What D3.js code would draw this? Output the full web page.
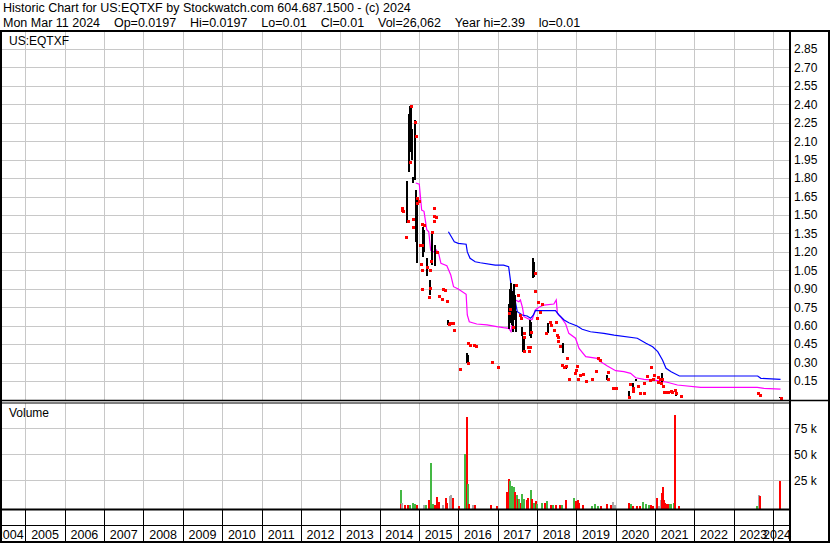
<!DOCTYPE html>
<html>
<head>
<meta charset="utf-8">
<script src="https://cdn.jsdelivr.net/npm/d3@7"></script>
<style>
body{margin:0;background:#fff;}
svg{display:block;font-family:"Liberation Sans",Arial,sans-serif;font-size:12px;}
.grid line{stroke:#c8c8c8;stroke-width:1;shape-rendering:crispEdges;}
.grid .domain{display:none;}
</style>
</head>
<body>
<svg id="chart" width="830" height="543"></svg>
<script>
// ---- data ----
var titleLine1 = 'Historic Chart for US:EQTXF by Stockwatch.com 604.687.1500 - (c) 2024';
var titleFields = ['Mon Mar 11 2024','Op=0.0197','Hi=0.0197','Lo=0.01','Cl=0.01','Vol=26,062','Year hi=2.39','lo=0.01'];
var symbol = 'US:EQTXF';

var years = ['2004','2005','2006','2007','2008','2009','2010','2011','2012','2013','2014',
             '2015','2016','2017','2018','2019','2020','2021','2022','2023','2024'];
var priceTicks = [0.15,0.30,0.45,0.60,0.75,0.90,1.05,1.20,1.35,1.50,1.65,1.80,1.95,2.10,2.25,2.40,2.55,2.70,2.85];
var volTicks = [25000,50000,75000];

// high-low bars (decimal year)
var barYear = [2014.71,2014.75,2014.77,2014.79,2014.82,2014.86,2014.90,2014.92,2014.94,2014.96,
               2015.11,2015.14,2015.20,2015.27,2015.33,2015.40,2015.75,2016.22,2016.25,
               2017.29,2017.32,2017.34,2017.37,2017.39,2017.42,2017.45,2017.47,2017.62,2017.65,2017.67,
               2017.82,2017.86,2017.90,2017.92,2018.29,2018.65,2018.75,2019.78,2020.34,2020.43,2020.52,
               2021.17,2021.54,2024.18];
var barHigh = [1.78,2.32,2.39,2.37,2.20,1.81,2.27,1.70,1.62,1.55,
               1.40,1.38,1.15,0.97,1.36,1.26,0.65,0.376,0.36,
               0.78,0.90,0.95,0.88,0.80,0.94,0.85,0.72,0.59,0.52,0.50,
               0.65,0.63,1.15,1.12,0.62,0.457,0.267,0.20,0.069,0.134,0.167,
               0.215,0.053,0.02];
var barLow  = [1.44,1.85,2.02,2.05,1.95,1.76,1.78,1.28,1.30,1.11,
               1.16,1.20,1.00,0.85,1.09,1.09,0.61,0.294,0.30,
               0.58,0.62,0.65,0.60,0.55,0.70,0.65,0.55,0.52,0.39,0.40,
               0.52,0.50,0.985,1.00,0.54,0.376,0.248,0.16,0.023,0.093,0.15,
               0.134,0.031,0.01];

// single-price days (red)
var dotYear = [2014.56,2014.58,2014.60,2014.67,2014.73,2014.77,2014.80,2014.84,2014.84,2014.90,2014.92,2014.94,2014.96,
               2015.01,2015.03,2015.06,2015.07,2015.08,2015.08,2015.08,2015.14,2015.20,2015.26,2015.27,2015.27,2015.31,
               2015.34,2015.38,2015.38,2015.38,2015.43,2015.47,2015.52,2015.59,2015.60,2015.67,2015.71,2015.77,2015.79,
               2015.86,2015.89,2016.04,2016.24,2016.26,2016.30,2016.40,2016.45,2016.85,2017.00,
               2017.30,2017.32,2017.40,2017.47,2017.51,2017.57,2017.59,2017.67,2017.67,2017.67,2017.77,2017.80,2017.82,
               2017.86,2017.95,2017.95,2018.01,2018.03,2018.09,2018.14,2018.22,2018.33,2018.35,2018.44,2018.48,2018.50,
               2018.54,2018.54,2018.58,2018.63,2018.69,2018.74,2018.77,2018.81,2018.97,2018.99,2019.03,2019.05,2019.09,
               2019.17,2019.25,2019.41,2019.50,2019.55,2019.59,2019.80,2019.81,2019.94,2020.02,2020.34,2020.36,2020.43,
               2020.45,2020.56,2020.63,2020.72,2020.72,2020.80,2020.87,2020.91,2020.96,2020.97,2021.07,2021.08,2021.13,
               2021.15,2021.18,2021.21,2021.23,2021.28,2021.34,2021.40,2021.43,2021.51,2021.54,2021.66,
               2023.63,2023.68,2024.20];
var dotPrice = [1.54,1.56,1.53,1.32,1.45,1.93,2.39,1.47,1.40,2.26,2.14,1.64,1.60,
                1.61,1.26,1.10,0.90,1.26,1.43,1.05,1.42,1.08,0.83,1.055,0.91,1.13,
                1.36,1.56,1.49,1.45,1.48,1.20,0.84,0.82,0.90,0.89,0.80,0.61,0.62,
                0.62,0.565,0.248,0.294,0.457,0.443,0.443,0.437,0.307,0.267,
                0.70,0.733,0.59,0.93,0.85,0.687,0.66,0.538,0.51,0.397,0.424,0.397,0.424,
                0.55,1.03,0.885,0.665,0.795,0.714,0.78,0.538,0.633,0.606,0.565,0.633,0.524,
                0.51,0.478,0.435,0.28,0.267,0.272,0.335,0.167,0.213,0.24,0.275,0.167,0.20,
                0.207,0.153,0.167,0.234,0.335,0.32,0.164,0.226,0.096,0.096,0.023,0.126,0.069,
                0.091,0.11,0.055,0.055,0.137,0.19,0.159,0.262,0.164,0.20,0.145,0.185,0.164,
                0.132,0.169,0.11,0.063,0.063,0.063,0.069,0.063,0.077,0.05,0.031,
                0.05,0.037,0.01];

// moving averages
var maFastYear = [2014.92,2015.01,2015.07,2015.13,2015.20,2015.25,2015.30,2015.38,2015.43,2015.50,2015.56,2015.71,
                  2015.81,2015.88,2016.00,2016.20,2016.23,2016.28,2016.47,2016.73,2016.98,2017.15,2017.28,2017.34,
                  2017.39,2017.45,2017.54,2017.58,2017.63,2017.67,2017.75,2017.84,2017.88,2017.96,2018.05,2018.18,
                  2018.43,2018.49,2018.52,2018.60,2018.73,2018.81,2018.98,2019.07,2019.24,2019.53,2019.62,2019.79,
                  2020.00,2020.21,2020.38,2020.51,2020.72,2021.06,2021.31,2021.57,2022.16,2022.67,2023.60,2023.77,2024.19];
var maFast = [1.76,1.75,1.54,1.53,1.38,1.364,1.21,1.20,1.22,1.19,1.107,1.088,
              1.012,0.917,0.898,0.855,0.687,0.632,0.614,0.606,0.592,0.584,0.579,0.551,
              0.66,0.809,0.795,0.809,0.75,0.673,0.66,0.646,0.652,0.728,0.75,0.768,
              0.776,0.809,0.70,0.673,0.614,0.538,0.498,0.416,0.348,0.335,0.307,0.272,
              0.234,0.226,0.213,0.177,0.164,0.153,0.14,0.118,0.099,0.099,0.099,0.091,0.085];
var maSlowYear = [2015.75,2015.84,2015.90,2016.00,2016.20,2016.23,2016.30,2016.43,2016.56,2016.94,2017.15,2017.28,
                  2017.32,2017.37,2017.41,2017.50,2017.63,2017.75,2017.84,2017.91,2017.96,2018.47,2018.56,2018.69,
                  2018.81,2019.02,2019.15,2019.36,2019.70,2019.96,2020.55,2020.77,2020.94,2021.07,2021.19,2021.28,
                  2021.41,2021.62,2023.61,2023.69,2024.19];
var maSlow = [1.364,1.315,1.283,1.27,1.262,1.20,1.148,1.12,1.112,1.093,1.093,1.08,
              0.985,0.85,0.863,0.714,0.687,0.679,0.66,0.687,0.722,0.722,0.687,0.646,
              0.624,0.598,0.571,0.551,0.538,0.524,0.498,0.457,0.429,0.389,0.321,0.254,
              0.226,0.191,0.191,0.172,0.164];

// volume (u = up day, d = down day, n = unchanged)
var volYear = [2014.54,2014.55,2014.58,2014.65,2014.72,2014.77,2014.85,2014.89,2014.96,2015.13,2015.18,2015.26,
               2015.30,2015.35,2015.41,2015.47,2015.52,2015.60,2015.68,2015.72,2015.79,2015.82,2015.87,2016.02,
               2016.18,2016.21,2016.24,2016.27,2016.38,2016.43,2016.83,2016.98,2017.25,2017.29,2017.31,2017.34,
               2017.37,2017.41,2017.44,2017.49,2017.52,2017.55,2017.59,2017.63,2017.67,2017.74,2017.78,2017.84,
               2017.88,2017.92,2017.97,2018.01,2018.13,2018.20,2018.26,2018.35,2018.42,2018.48,2018.59,2018.64,
               2018.74,2018.94,2018.99,2019.04,2019.08,2019.18,2019.40,2019.47,2019.54,2019.64,2019.78,2019.88,
               2019.93,2019.98,2020.33,2020.40,2020.45,2020.53,2020.62,2020.69,2020.76,2020.84,2020.89,2020.96,
               2021.04,2021.09,2021.14,2021.16,2021.18,2021.20,2021.23,2021.26,2021.30,2021.35,2021.38,2021.41,
               2021.48,2021.52,2021.61,2023.60,2023.64,2023.66,2024.18];
var volValue = [15700,2000,2900,1000,1300,800,2900,1900,1400,1500,900,6000,
                41600,2500,1500,8700,4400,1500,8300,3000,9600,10600,7700,600,
                50300,85600,21000,2400,1000,1000,1500,600,14000,26000,24000,16300,
                19500,18200,14000,11100,6700,6900,3000,11700,7500,6100,7700,15700,
                6700,3000,5500,2500,3400,3400,5500,1000,1500,1500,800,800,
                6400,8000,5000,6400,3000,1500,600,2500,600,600,2500,1500,
                4000,1500,3400,1800,600,600,600,4000,2500,1500,1500,600,
                8000,600,6400,6400,12500,18600,6400,3400,2500,2500,2500,2500,
                3400,87800,600,600,11100,10200,24600];
var volDir = ['u','d','n','d','d','u','u','u','d','n','u','d',
              'u','u','d','d','d','n','d','d','n','n','d','d',
              'u','d','u','d','n','d','d','d','d','d','u','u',
              'u','u','d','u','d','u','d','u','u','d','d','u',
              'd','u','d','u','u','d','u','d','u','d','d','u',
              'd','u','d','d','d','d','u','u','u','d','d','d',
              'n','n','d','u','d','d','d','u','u','u','d','d',
              'd','n','d','n','d','d','d','d','d','d','u','u',
              'u','d','d','u','n','d','d'];

// ---- layout ----
var svg = d3.select('#chart');
var plotR = 789;
var priceTop = 31, priceBot = 400;
var volTop = 403, volBot = 509;
var axisMid = 525.5, axisBot = 542;

var x = d3.scaleLinear().domain([2004.3545, 2024.4053]).range([0, plotR]);
var yP = d3.scaleLinear().domain([0, 3]).range([399.5, 30.5]);
var yV = d3.scaleLinear().domain([0, 100000]).range([506.3, 402.3]);
var yearBounds = years.slice(1).map(function(d){ return +d; });

var colorVol = {u:'#44b844', d:'#ff0000', n:'#a8a8a8'};

svg.append('defs').append('clipPath').attr('id','clipP')
  .append('rect').attr('x',0).attr('y',priceTop).attr('width',plotR).attr('height',priceBot-priceTop);

// header
svg.append('text').attr('x',3).attr('y',12).style('font-size','12.5px').text(titleLine1);
svg.append('text').attr('x',3).attr('y',27).style('font-size','12.5px')
  .text(titleFields.join(' \u00a0\u00a0\u00a0'));

// price grid + labels
var axP = d3.axisRight(yP).tickValues(priceTicks).tickSize(-plotR).tickPadding(5)
  .tickFormat(d3.format('.2f'));
var gP = svg.append('g').attr('class','grid').attr('transform','translate('+plotR+',0)').call(axP);
gP.selectAll('text').attr('fill','#000').style('font-size','12px').style('font-family','"Liberation Sans",Arial,sans-serif');

svg.append('g').attr('class','grid').selectAll('line').data(yearBounds).enter().append('line')
  .attr('x1',function(d){ return Math.round(x(d))+0.5; }).attr('x2',function(d){ return Math.round(x(d))+0.5; })
  .attr('y1',priceTop).attr('y2',priceBot);

// volume grid + labels
var axV = d3.axisRight(yV).tickValues(volTicks).tickSize(-plotR).tickPadding(5)
  .tickFormat(function(d){ return (d/1000)+' k'; });
var gV = svg.append('g').attr('class','grid').attr('transform','translate('+plotR+',0)').call(axV);
gV.selectAll('text').attr('fill','#000').style('font-size','12px').style('font-family','"Liberation Sans",Arial,sans-serif');

svg.append('g').attr('class','grid').selectAll('line').data(yearBounds).enter().append('line')
  .attr('x1',function(d){ return Math.round(x(d))+0.5; }).attr('x2',function(d){ return Math.round(x(d))+0.5; })
  .attr('y1',volTop).attr('y2',volBot);

svg.append('text').attr('x',9).attr('y',45).text(symbol);
svg.append('text').attr('x',9).attr('y',417).text('Volume');

// price marks
var gPrice = svg.append('g').attr('clip-path','url(#clipP)');

var lineMa = d3.line().x(function(d){ return x(d[0]); }).y(function(d){ return yP(d[1]); });
gPrice.append('path').datum(d3.zip(maFastYear, maFast)).attr('d', lineMa)
  .attr('fill','none').attr('stroke','#ff00ff').attr('stroke-width',1.2);
gPrice.append('path').datum(d3.zip(maSlowYear, maSlow)).attr('d', lineMa)
  .attr('fill','none').attr('stroke','#0000ff').attr('stroke-width',1.2);

gPrice.selectAll('.hl').data(d3.range(barYear.length)).enter().append('rect')
  .attr('class','hl')
  .attr('x',function(i){ return Math.round(x(barYear[i])) - 1; })
  .attr('y',function(i){ return Math.round(yP(barHigh[i])); })
  .attr('width',2)
  .attr('height',function(i){ return Math.max(1, Math.round(yP(barLow[i]) - yP(barHigh[i]))); })
  .attr('fill','#000').style('shape-rendering','crispEdges');

gPrice.selectAll('.dot').data(d3.range(dotYear.length)).enter().append('rect')
  .attr('class','dot')
  .attr('x',function(i){ return Math.round(x(dotYear[i])) - 1; })
  .attr('y',function(i){ return Math.round(yP(dotPrice[i])) - 1; })
  .attr('width',3).attr('height',3).attr('fill','#ff0000').style('shape-rendering','crispEdges');

// volume bars
svg.selectAll('.vol').data(d3.range(volYear.length)).enter().append('rect')
  .attr('class','vol')
  .attr('x',function(i){ return Math.round(x(volYear[i])) - 1; })
  .attr('y',function(i){ return Math.round(yV(volValue[i])); })
  .attr('width',2)
  .attr('height',function(i){ return volBot - Math.round(yV(volValue[i])); })
  .attr('fill',function(i){ return colorVol[volDir[i]]; }).style('shape-rendering','crispEdges');

// x axis panel: separators and year labels centred in each (visible) year box
svg.append('g').selectAll('line').data(yearBounds).enter().append('line')
  .attr('x1',function(d){ return Math.round(x(d))+0.5; }).attr('x2',function(d){ return Math.round(x(d))+0.5; })
  .attr('y1',volBot).attr('y2',axisBot).attr('stroke','#000').attr('stroke-width',1);

svg.append('g').selectAll('text').data(years).enter().append('text')
  .attr('x',function(d){ return (Math.max(x(+d), -6) + Math.min(x(+d + 1), plotR - 8)) / 2; })
  .attr('text-anchor','middle')
  .attr('y',539).style('font-size','12.5px').text(function(d){ return d; });

// frame
function hline(y, x1, x2, w){
  svg.append('line').attr('x1',x1).attr('x2',x2).attr('y1',y).attr('y2',y)
    .attr('stroke','#000').attr('stroke-width',w);
}
function vline(xx, y1, y2, w){
  svg.append('line').attr('x1',xx).attr('x2',xx).attr('y1',y1).attr('y2',y2)
    .attr('stroke','#000').attr('stroke-width',w);
}
hline(priceTop, 0, 830, 2);
hline(priceBot + 0.5, 0, 830, 1.5);
hline(volTop, 0, plotR, 1);
hline(volBot + 0.5, 0, plotR + 1, 2);
hline(axisMid, 0, plotR, 1);
hline(axisBot, 0, 830, 2);
vline(1, priceTop, 543, 2);
vline(plotR + 1, priceTop, 543, 2);
vline(829, priceTop, 543, 2);
</script>
</body>
</html>
